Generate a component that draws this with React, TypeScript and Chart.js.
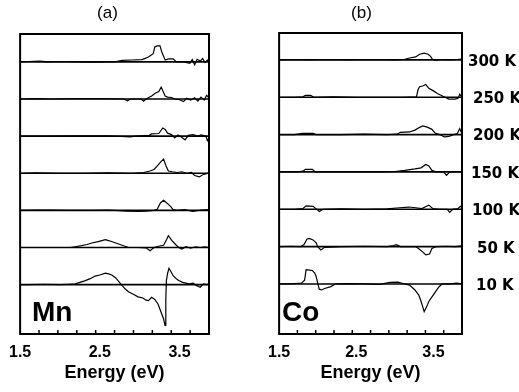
import { useEffect, useRef } from "react";
import { Chart, registerables } from "chart.js";

Chart.register(...registerables);

type Pt = [number, number];

// ---------- data ----------
const temperatureLabels = ["300 K", "250 K", "200 K", "150 K", "100 K", "50 K", "10 K"];
const stackOffsets = [6, 5, 4, 3, 2, 1, 0];
const xTickValues = [1.5, 2.5, 3.5];
const energyMin = 1.5;
const energyMax = 3.87;
const panelTitles = ["(a)", "(b)"];
const elementNames = ["Mn", "Co"];
const xAxisTitle = "Energy (eV)";

// Mn spectra [energy (eV), signal]
const mn300: Pt[] = [[1.5,0],[1.6,0.01],[1.75,0.02],[1.85,0],[2.0,0.01],[2.2,0],[2.4,-0.01],[2.6,0],[2.69,0],[2.78,0.04],[2.9,0.05],[3.03,0.06],[3.11,0.13],[3.17,0.22],[3.19,0.4],[3.22,0.43],[3.255,0.43],[3.28,0.25],[3.32,0.05],[3.36,0.08],[3.42,0.08],[3.46,0.0],[3.55,0.0],[3.63,-0.04],[3.66,0.06],[3.69,-0.08],[3.72,0.07],[3.76,0.02],[3.79,0.09],[3.82,-0.02],[3.85,0.05],[3.87,0.02]];
const mn250: Pt[] = [[1.5,0],[1.7,0.01],[1.9,0],[2.2,0.01],[2.5,0.01],[2.8,0],[2.85,-0.05],[2.88,0],[3.02,0],[3.05,-0.06],[3.08,0],[3.15,0.08],[3.2,0.16],[3.24,0.2],[3.27,0.32],[3.29,0.22],[3.32,0.08],[3.35,0.05],[3.4,0.04],[3.44,0],[3.5,-0.02],[3.55,-0.07],[3.59,0.02],[3.64,-0.03],[3.69,0.03],[3.73,-0.06],[3.77,0.05],[3.81,-0.03],[3.84,0.1],[3.87,0.03]];
const mn200: Pt[] = [[1.5,0],[1.8,0],[2.2,0.01],[2.6,0.01],[2.88,-0.02],[2.95,0],[3.12,0.02],[3.15,0.06],[3.24,0.07],[3.29,0.22],[3.32,0.18],[3.35,0.08],[3.4,0.04],[3.44,-0.05],[3.48,0.03],[3.53,-0.04],[3.57,-0.1],[3.61,0.02],[3.67,0.04],[3.73,0],[3.77,0.03],[3.83,0],[3.85,-0.12],[3.87,-0.05]];
const mn150: Pt[] = [[1.5,0],[1.7,0.01],[2.0,0],[2.3,0],[2.6,0.01],[2.9,0],[3.05,0.02],[3.13,0.06],[3.18,0.1],[3.23,0.22],[3.27,0.32],[3.3,0.38],[3.33,0.2],[3.36,0.06],[3.41,0.04],[3.47,0.02],[3.53,0.04],[3.59,0],[3.65,0.02],[3.69,-0.06],[3.75,-0.1],[3.79,-0.04],[3.83,-0.02],[3.87,0.02]];
const mn100: Pt[] = [[1.5,0],[1.7,0.01],[1.9,0.01],[2.1,0],[2.4,0],[2.6,0.01],[2.84,-0.02],[2.98,-0.03],[3.08,-0.02],[3.18,0],[3.22,0.03],[3.26,0.2],[3.3,0.27],[3.34,0.2],[3.39,0.1],[3.42,0.02],[3.47,0],[3.57,0.02],[3.67,-0.03],[3.77,0.01],[3.87,0.02]];
const mn50: Pt[] = [[2.13,0],[2.19,0.02],[2.27,0.05],[2.34,0.08],[2.4,0.12],[2.48,0.16],[2.57,0.21],[2.62,0.18],[2.7,0.12],[2.78,0.06],[2.86,0],[2.98,0],[3.08,-0.01],[3.13,-0.09],[3.18,0],[3.25,0.04],[3.3,0.06],[3.34,0.22],[3.36,0.32],[3.4,0.2],[3.45,0.08],[3.49,0],[3.53,-0.04],[3.58,0.02],[3.64,-0.02],[3.7,0.02],[3.76,0],[3.82,0.02],[3.87,0]];
const mn10: Pt[] = [[1.5,0],[1.6,0],[1.8,0.01],[2.0,0],[2.1,0.01],[2.19,0.02],[2.25,0.06],[2.31,0.1],[2.38,0.16],[2.44,0.23],[2.5,0.26],[2.57,0.31],[2.61,0.29],[2.65,0.26],[2.7,0.18],[2.77,0],[2.82,-0.12],[2.86,-0.19],[2.92,-0.26],[2.98,-0.33],[3.04,-0.36],[3.08,-0.42],[3.11,-0.43],[3.15,-0.34],[3.19,-0.4],[3.23,-0.52],[3.27,-0.75],[3.3,-0.92],[3.318,-1.1],[3.328,-0.4],[3.335,0.1],[3.35,0.3],[3.368,0.44],[3.39,0.36],[3.42,0.24],[3.46,0.16],[3.49,0.11],[3.54,0.06],[3.58,0.04],[3.62,0.02],[3.67,0.04],[3.71,-0.02],[3.76,-0.07],[3.8,0.02],[3.84,0],[3.87,0.02]];

// Co spectra [energy (eV), signal]
const co300: Pt[] = [[1.5,0],[1.7,0.01],[1.9,0],[2.1,0.01],[2.4,0],[2.7,0.01],[2.98,0],[3.12,0.01],[3.19,0.05],[3.27,0.08],[3.32,0.15],[3.38,0.18],[3.43,0.15],[3.46,0.1],[3.485,0.02],[3.52,-0.01],[3.6,0.01],[3.7,0],[3.8,0.01],[3.87,0.02]];
const co250: Pt[] = [[1.5,0],[1.7,0],[1.81,0.01],[1.84,0.05],[1.91,0.05],[1.95,0],[2.2,0.01],[2.5,0],[2.8,0],[3.1,0],[3.28,0.01],[3.3,0.2],[3.32,0.28],[3.36,0.3],[3.4,0.34],[3.44,0.24],[3.5,0.17],[3.55,0.1],[3.59,0.06],[3.65,0],[3.7,-0.05],[3.78,-0.05],[3.82,-0.03],[3.84,0.08],[3.87,0]];
const co200: Pt[] = [[1.5,0],[1.7,0],[1.8,0.03],[1.94,0.03],[1.98,0],[2.3,0],[2.6,0.01],[2.9,0],[3.03,0.01],[3.07,0.06],[3.19,0.07],[3.26,0.12],[3.31,0.18],[3.36,0.23],[3.42,0.2],[3.48,0.14],[3.52,0.04],[3.58,0],[3.64,-0.06],[3.7,-0.05],[3.76,0],[3.81,0.03],[3.84,0.16],[3.87,0.02]];
const co150: Pt[] = [[1.5,0],[1.75,0],[1.81,0.02],[1.84,0.07],[1.93,0.07],[1.97,0],[2.2,0],[2.5,0.01],[2.8,0],[3.0,0.01],[3.13,0.04],[3.26,0.08],[3.34,0.11],[3.4,0.2],[3.44,0.16],[3.48,0.04],[3.53,0],[3.63,0],[3.67,-0.09],[3.71,0],[3.87,0]];
const co100: Pt[] = [[1.5,0],[1.7,0],[1.81,0.02],[1.85,0.09],[1.94,0.08],[1.98,0.01],[2.02,-0.06],[2.07,0],[2.3,0.01],[2.6,0],[2.9,0.01],[3.06,0.04],[3.18,0.06],[3.27,0.04],[3.35,0.02],[3.41,0.08],[3.44,0.11],[3.49,0.02],[3.58,0],[3.68,0],[3.71,-0.08],[3.75,0],[3.82,0.02],[3.85,0.08],[3.87,0.05]];
const co50: Pt[] = [[1.5,0],[1.65,0.01],[1.78,0],[1.82,0.05],[1.86,0.2],[1.89,0.22],[1.94,0.18],[1.98,0.1],[2.0,0],[2.04,-0.09],[2.09,-0.02],[2.3,0],[2.6,0.01],[2.9,0],[2.98,0.03],[3.02,0.05],[3.07,0],[3.27,0],[3.31,-0.06],[3.36,-0.14],[3.4,-0.22],[3.45,-0.2],[3.48,-0.05],[3.53,0],[3.68,0.01],[3.78,0],[3.87,0.02]];
const co10: Pt[] = [[1.5,0],[1.6,0],[1.7,0.01],[1.79,0.02],[1.83,0.1],[1.85,0.38],[1.89,0.37],[1.93,0.36],[1.96,0.3],[1.98,0.2],[2.0,0.02],[2.02,-0.14],[2.05,-0.16],[2.09,-0.12],[2.17,-0.07],[2.23,0],[2.4,0.01],[2.6,0],[2.8,-0.01],[2.94,0.04],[3.04,0.05],[3.13,0],[3.19,-0.03],[3.26,-0.16],[3.31,-0.3],[3.34,-0.47],[3.38,-0.74],[3.41,-0.62],[3.44,-0.47],[3.49,-0.32],[3.53,-0.2],[3.57,-0.08],[3.61,0],[3.72,0],[3.8,0.02],[3.87,0]];

const mnSpectra = [mn300, mn250, mn200, mn150, mn100, mn50, mn10];
const coSpectra = [co300, co250, co200, co150, co100, co50, co10];

// ---------- layout / style ----------
const FONT = "'Liberation Sans', Arial, Helvetica, sans-serif";
const WIDE_FONT = "'DejaVu Sans', Verdana, sans-serif";
const W = 519;
const H = 392;

interface PanelCfg {
  spectra: Pt[][];
  title: string;
  element: string;
  canvasLeft: number;
  canvasWidth: number;
  padding: { left: number; right: number; top: number; bottom: number };
  yMin: number;
  yMax: number;
  titleX: number;
  elemX: number;
  showTemps: boolean;
  tempX: number[];
}

const panels: PanelCfg[] = [
  {
    spectra: mnSpectra,
    title: panelTitles[0],
    element: elementNames[0],
    canvasLeft: 0,
    canvasWidth: 259,
    padding: { left: 20, right: 50, top: 34, bottom: 0 },
    yMin: -1.33,
    yMax: 6.75,
    titleX: 107.5,
    elemX: 32,
    showTemps: false,
    tempX: [],
  },
  {
    spectra: coSpectra,
    title: panelTitles[1],
    element: elementNames[1],
    canvasLeft: 259,
    canvasWidth: 260,
    padding: { left: 14, right: 57, top: 33, bottom: 0 },
    yMin: -1.34,
    yMax: 6.72,
    titleX: 102.5,
    elemX: 23,
    showTemps: true,
    tempX: [209, 214, 214, 212, 213, 218, 217],
  },
];

function decorPlugin(cfg: PanelCfg) {
  return {
    id: "panelDecor",
    afterDatasetsDraw(chart: any) {
      const { ctx, chartArea: a, scales } = chart;
      ctx.save();
      ctx.strokeStyle = "#000";
      ctx.lineWidth = 2;
      ctx.strokeRect(a.left, a.top, a.right - a.left, a.bottom - a.top);
      ctx.lineWidth = 1.5;
      for (let i = 1; i < 10; i++) {
        const x = a.left + ((a.right - a.left) * i) / 10;
        ctx.beginPath();
        ctx.moveTo(x, a.bottom);
        ctx.lineTo(x, a.bottom - 4);
        ctx.stroke();
      }
      ctx.fillStyle = "#000";
      ctx.font = `17px ${FONT}`;
      ctx.textAlign = "center";
      ctx.textBaseline = "middle";
      ctx.fillText(cfg.title, cfg.titleX, 13);
      ctx.font = `bold 28px ${FONT}`;
      ctx.textAlign = "left";
      ctx.textBaseline = "alphabetic";
      ctx.fillText(cfg.element, cfg.elemX, 321);
      if (cfg.showTemps) {
        ctx.font = `bold 15px ${WIDE_FONT}`;
        ctx.textBaseline = "middle";
        temperatureLabels.forEach((t, i) => {
          const y = scales.y.getPixelForValue(stackOffsets[i]) + 2;
          ctx.fillText(t, cfg.tempX[i], y);
        });
      }
      ctx.restore();
    },
  };
}

function buildChart(canvas: HTMLCanvasElement, cfg: PanelCfg) {
  const datasets: any[] = [];
  cfg.spectra.forEach((s, i) => {
    const off = stackOffsets[i];
    datasets.push({
      data: [
        { x: energyMin, y: off },
        { x: energyMax, y: off },
      ],
      borderColor: "#000",
      borderWidth: 1.6,
      pointRadius: 0,
    });
    datasets.push({
      data: s.map(([x, v]) => ({ x, y: v + off })),
      borderColor: "#000",
      borderWidth: 1.2,
      pointRadius: 0,
    });
  });
  return new Chart(canvas, {
    type: "line",
    data: { datasets },
    options: {
      animation: false,
      responsive: false,
      parsing: false,
      layout: { padding: cfg.padding },
      elements: { line: { tension: 0 }, point: { radius: 0 } },
      plugins: { legend: { display: false }, tooltip: { enabled: false }, title: { display: false } },
      scales: {
        x: {
          type: "linear",
          min: energyMin,
          max: energyMax,
          afterBuildTicks: (scale: any) => {
            scale.ticks = xTickValues.map((v) => ({ value: v }));
          },
          afterFit: (scale: any) => {
            scale.height = 58;
          },
          grid: { display: false, drawTicks: false },
          border: { display: false },
          ticks: {
            color: "#000",
            padding: 9,
            maxRotation: 0,
            autoSkip: false,
            font: { family: FONT, size: 16, weight: "bold" },
            callback: (v: any) => Number(v).toFixed(1),
          },
          title: {
            display: true,
            text: xAxisTitle,
            color: "#000",
            font: { family: FONT, size: 18, weight: "bold" },
            padding: { top: 0, bottom: 8 },
          },
        },
        y: { display: false, min: cfg.yMin, max: cfg.yMax },
      },
    },
    plugins: [decorPlugin(cfg)],
  } as any);
}

function Panel({ cfg }: { cfg: PanelCfg }) {
  const ref = useRef<HTMLCanvasElement | null>(null);
  useEffect(() => {
    if (!ref.current) return;
    const chart = buildChart(ref.current, cfg);
    return () => chart.destroy();
  }, [cfg]);
  return (
    <canvas
      ref={ref}
      width={cfg.canvasWidth}
      height={H}
      style={{ position: "absolute", left: cfg.canvasLeft, top: 0, width: cfg.canvasWidth, height: H }}
    />
  );
}

export default function App() {
  return (
    <div style={{ position: "fixed", left: 0, top: 0, width: W, height: H, background: "#fff", overflow: "hidden" }}>
      {panels.map((p, i) => (
        <Panel key={i} cfg={p} />
      ))}
    </div>
  );
}
